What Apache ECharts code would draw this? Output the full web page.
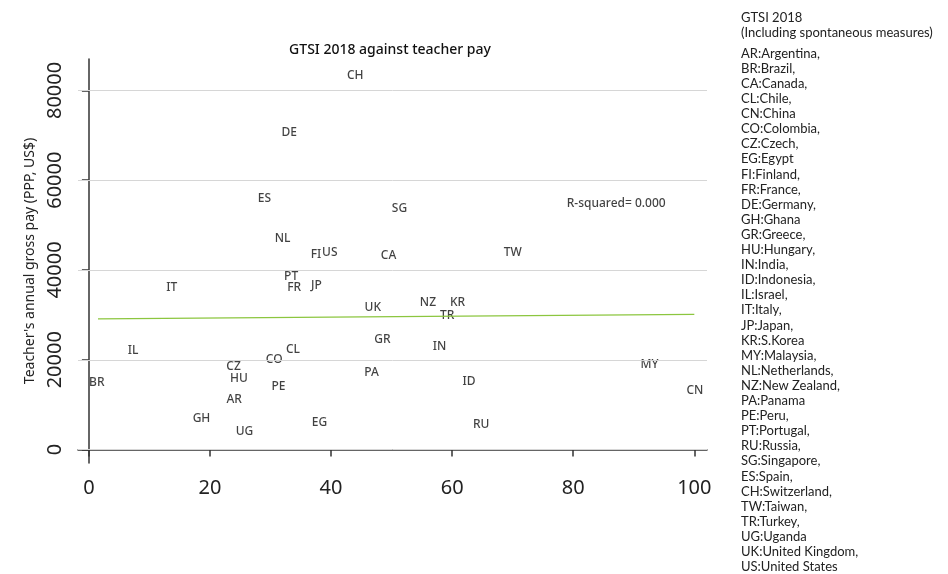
<!DOCTYPE html>
<html>
<head>
<meta charset="UTF-8">
<title>GTSI 2018 against teacher pay</title>
<script src="https://cdn.jsdelivr.net/npm/echarts@6/dist/echarts.min.js"></script>
<style>
  html, body { margin: 0; padding: 0; background: #fff; }
  #chart { width: 948px; height: 574px; }
</style>
</head>
<body>
<div id="chart"></div>
<script>
// country codes, GTSI score (x) and teacher pay (y)
var codes = ['CH','DE','ES','NL','FI','US','SG','CA','TW','PT','FR','JP','IT','UK','NZ','KR','TR',
             'GR','IN','IL','CL','CO','CZ','HU','PE','PA','MY','ID','BR','AR','GH','UG','EG','RU','CN'];
var gtsi = [44.0, 33.1, 29.0, 32.0, 37.5, 39.8, 51.3, 49.5, 70.0, 33.4, 33.9, 37.6, 13.7, 46.9, 56.0, 60.9, 59.2,
            48.5, 57.9, 7.3, 33.7, 30.6, 23.9, 24.8, 31.3, 46.7, 92.6, 62.8, 1.3, 24.0, 18.6, 25.7, 38.1, 64.8, 100.1];
var pay = [83300, 70600, 55800, 47000, 43500, 43900, 53700, 43200, 43800, 38600, 36100, 36600, 36100, 31700, 32800, 32700, 29800,
           24500, 22900, 22100, 22300, 20100, 18400, 15700, 14000, 17100, 19000, 15100, 14850, 11200, 6900, 3900, 5900, 5600, 13100];

// fitted line end points
var fitX = [1.5, 100];
var fitY = [29100, 30100];

var xTicks = [0, 20, 40, 60, 80, 100];
var yTicks = [0, 20000, 40000, 60000, 80000];

var legendLines = ['AR:Argentina,','BR:Brazil,','CA:Canada,','CL:Chile,','CN:China','CO:Colombia,','CZ:Czech,',
  'EG:Egypt','FI:Finland,','FR:France,','DE:Germany,','GH:Ghana','GR:Greece,','HU:Hungary,','IN:India,',
  'ID:Indonesia,','IL:Israel,','IT:Italy,','JP:Japan,','KR:S.Korea','MY:Malaysia,','NL:Netherlands,',
  'NZ:New Zealand,','PA:Panama','PE:Peru,','PT:Portugal,','RU:Russia,','SG:Singapore,','ES:Spain,',
  'CH:Switzerland,','TW:Taiwan,','TR:Turkey,','UG:Uganda','UK:United Kingdom,','US:United States'];

var chart = echarts.init(document.getElementById('chart'));

var points = codes.map(function (c, i) { return [gtsi[i], pay[i], c]; });

var graphics = [
  { type: 'text', left: 741, top: 10, style: { text: 'GTSI 2018\n(Including spontaneous measures)', font: '13px Lato', fill: '#222', lineHeight: 15 } },
  { type: 'text', left: 741, top: 46, style: { text: legendLines.join('\n'), font: '13px Lato', fill: '#222', lineHeight: 15.1 } }
];

chart.setOption({
  animation: false,
  textStyle: { fontFamily: 'Noto Sans' },
  title: {
    text: 'GTSI 2018 against teacher pay',
    left: 385, top: 38, textAlign: 'center',
    textStyle: { fontSize: 14, fontWeight: 500, color: '#111' }
  },
  grid: { left: 78, top: 59, right: 241, bottom: 111 },
  xAxis: {
    type: 'value', min: -1.8, max: 102.1,
    axisLine: { show: true, lineStyle: { color: '#333', width: 1.5 } },
    axisTick: { show: true, customValues: xTicks, length: 7, lineStyle: { color: '#333', width: 1.5 } },
    axisLabel: { customValues: xTicks, fontSize: 20, color: '#222', margin: 15 },
    splitLine: { show: false }
  },
  yAxis: {
    type: 'value', min: -3000, max: 87000,
    name: "Teacher's annual gross pay (PPP, US$)",
    nameLocation: 'middle', nameGap: 37,
    nameTextStyle: { fontSize: 14, color: '#222' },
    axisLine: { show: true, lineStyle: { color: '#333', width: 1.5 } },
    axisTick: { show: true, customValues: yTicks, length: 7, lineStyle: { color: '#333', width: 1.5 } },
    axisLabel: {
      customValues: yTicks, fontSize: 20, color: '#222', rotate: 90, margin: 13,
      formatter: function (v) { return String(v); }
    },
    splitLine: { show: false }
  },
  graphic: graphics,
  series: [
    {
      type: 'line', data: [], silent: true,
      markLine: {
        silent: true, symbol: 'none', label: { show: false },
        lineStyle: { color: '#d6d6d6', width: 1, type: 'solid' },
        data: yTicks.map(function (v) { return { yAxis: v }; })
      }
    },
    {
      type: 'line', silent: true, symbol: 'none',
      data: fitX.map(function (x, i) { return [x, fitY[i]]; }),
      lineStyle: { color: '#8cc63f', width: 1.2 }
    },
    {
      type: 'scatter', symbolSize: 0, silent: true,
      data: points,
      label: {
        show: true, position: 'inside', fontSize: 12, fontWeight: 500, color: '#111',
        formatter: function (p) { return p.data[2]; }
      }
    },
    {
      type: 'scatter', symbolSize: 0, silent: true,
      data: [[87.1, 54900, 'R-squared= 0.000']],
      label: {
        show: true, position: 'inside', fontSize: 12, fontWeight: 500, color: '#111',
        formatter: function (p) { return p.data[2]; }
      }
    }
  ]
});
</script>
</body>
</html>
